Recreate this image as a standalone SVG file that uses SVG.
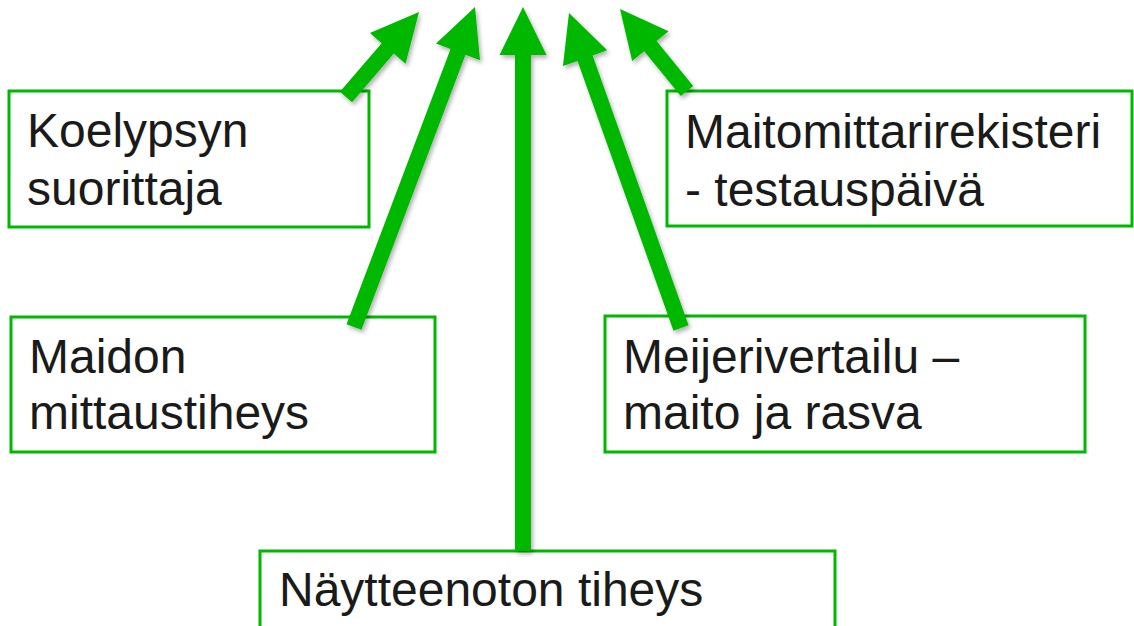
<svg xmlns="http://www.w3.org/2000/svg" width="1134" height="626" viewBox="0 0 1134 626">
  <style>
    .box { fill: #ffffff; stroke: #00B800; stroke-width: 3; }
    .lbl { font-family: "Liberation Sans", Arial, sans-serif; font-size: 48px; fill: #1a1a1a; }
    .arrow { fill: #00B800; filter: url(#sh); }
  </style>
  <defs>
    <filter id="sh" x="-20%" y="-20%" width="140%" height="140%">
      <feDropShadow dx="2" dy="3" stdDeviation="2" flood-color="#000" flood-opacity="0.3"/>
    </filter>
  </defs>
  <rect width="1134" height="626" fill="#ffffff"/>

  <g id="node-koelypsyn">
    <rect class="box" x="9" y="91" width="360" height="136"/>
    <text class="lbl" x="27" y="147">Koelypsyn</text>
    <text class="lbl" x="27" y="205">suorittaja</text>
  </g>
  <g id="node-maitomittari">
    <rect class="box" x="667" y="91" width="465" height="135"/>
    <text class="lbl" x="685" y="148">Maitomittarirekisteri</text>
    <text class="lbl" x="685" y="206">- testauspäivä</text>
  </g>
  <g id="node-maidon">
    <rect class="box" x="11" y="317" width="424" height="135"/>
    <text class="lbl" x="29" y="373">Maidon</text>
    <text class="lbl" x="29" y="429">mittaustiheys</text>
  </g>
  <g id="node-meijeri">
    <rect class="box" x="605" y="316" width="480" height="136"/>
    <text class="lbl" x="623" y="373">Meijerivertailu –</text>
    <text class="lbl" x="623" y="429">maito ja rasva</text>
  </g>
  <g id="node-naytteenotto">
    <rect class="box" x="260" y="551" width="575" height="80"/>
    <text class="lbl" x="279" y="606">Näytteenoton tiheys</text>
  </g>

  <g id="connectors">
    <polygon class="arrow" points="352.07,102.21 393.8,53.62 405.56,63.72 419,12 369.9,33.1 381.66,43.2 339.93,91.79"/>
    <polygon class="arrow" points="361.48,329.83 465.5,54.73 480,60.21 475,7 436.04,43.59 450.54,49.07 346.52,324.17"/>
    <polygon class="arrow" points="531,551 531,55 546.5,55 523,7 499.5,55 515,55 515,551"/>
    <polygon class="arrow" points="688.54,325.32 592.62,55.55 607.22,50.36 569,13 562.94,66.1 577.54,60.91 673.46,330.68"/>
    <polygon class="arrow" points="693.19,85.94 656.56,41.11 668.57,31.3 620,9 632.17,61.04 644.18,51.23 680.81,96.06"/>
  </g>
</svg>
